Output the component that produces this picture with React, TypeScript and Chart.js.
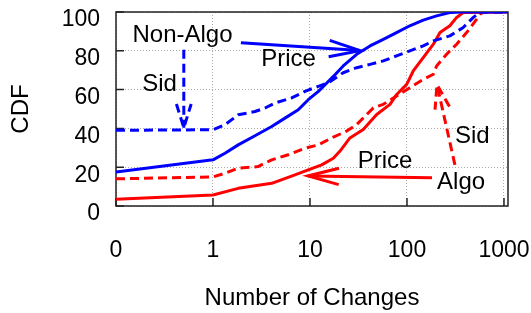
import React, { useEffect, useRef } from "react";
import { Chart, registerables } from "chart.js";

Chart.register(...registerables);

// ---------- data ----------
const xTickValues = [0, 1, 10, 100, 1000];
const xTickLabels = ["0", "1", "10", "100", "1000"];
const yTickValues = [0, 20, 40, 60, 80, 100];
const ZERO_AT = 0.1; // where "0" sits on the log axis
const X_MAX = 1100;

const nonAlgoPriceX = [0, 1, 1.33, 1.82, 2.71, 4.03, 5.52, 7.57, 9.6, 12.2, 14.3, 17.4, 22, 30.3, 41.6, 57, 78, 107, 147, 202, 277, 380, 1100];
const nonAlgoPriceY = [17.5, 23.8, 27.2, 31.5, 36.2, 41, 45.3, 49.6, 54.8, 59.1, 62.5, 66.8, 72.2, 78.2, 82.5, 85.9, 89.4, 92.9, 95.8, 98, 99.7, 100, 100];

const nonAlgoSidX = [0, 1, 1.33, 1.82, 2.71, 3.44, 4.36, 6.47, 8.88, 12.2, 15.4, 22, 30.3, 41.6, 57, 78, 107, 147, 187, 277, 380, 483, 566, 1100];
const nonAlgoSidY = [39, 39.3, 41.9, 47, 48.7, 50.5, 53.1, 55.7, 59.1, 61.7, 63.5, 68.7, 71.3, 73, 74.8, 77.4, 80, 82.5, 85.1, 87.7, 92, 97.2, 100, 100];

const algoPriceX = [0, 1, 1.82, 4.03, 7.0, 9.6, 13.2, 17.4, 20.4, 25.8, 35.4, 48.7, 66.8, 78.3, 99.3, 116, 147, 187, 219, 277, 325, 380, 1100];
const algoPriceY = [3.5, 5.7, 9.1, 11.7, 16, 18.6, 21.2, 24.6, 28.3, 35.1, 39.4, 47.2, 52.4, 57.5, 62.7, 69.6, 76.5, 83.4, 89.4, 92.9, 97.2, 99.7, 100];

const algoSidX = [0, 1, 1.33, 1.82, 2.91, 4.03, 5.97, 8.88, 12.2, 17.4, 23.9, 30.3, 45, 57, 78.3, 107, 147, 187, 202, 256, 325, 412, 523, 566, 620, 1100];
const algoSidY = [14, 15, 16.9, 19.5, 20.3, 23.8, 26.4, 29.8, 31.5, 35.5, 38.6, 42, 50.6, 52.4, 56.7, 61, 65.3, 67.9, 72.2, 78.2, 83.4, 89.4, 96.3, 98.9, 100, 100];

const noteTexts = ["Non-Algo", "Price", "Sid", "Algo", "Price", "Sid"];
const noteX = [0.485, 6.0, 0.281, 361, 59.3, 472];
const noteY = [87.9, 75.5, 62.5, 12.4, 22.9, 35.7];

const arrowColors = ["#0000ff", "#0000ff", "#ff0000", "#ff0000"];
const arrowDashed = [false, true, false, true];
const arrowFromX = [1.94, 0.5, 181, 312];
const arrowFromY = [84.2, 80.6, 14.5, 21.2];
const arrowToX = [32.8, 0.5, 9.52, 204];
const arrowToY = [80.1, 40.3, 15.5, 62.5];

// ---------- helpers ----------
const FAMILY = "'Liberation Sans', Arial, Helvetica, sans-serif";
const BLUE = "#0000ff";
const RED = "#ff0000";
const DASH = [9, 5];

const toPoints = (xs: number[], ys: number[]) =>
  xs.map((x, i) => ({ x: x === 0 ? ZERO_AT : x, y: ys[i] }));

const annotPlugin = {
  id: "gnuplotDecor",
  beforeDatasetsDraw(chart: any) {
    const { ctx, chartArea: a, scales } = chart;
    ctx.save();
    ctx.strokeStyle = "#222";
    ctx.lineWidth = 1.5;
    ctx.setLineDash([]);
    ctx.strokeRect(a.left, a.top, a.right - a.left, a.bottom - a.top);
    ctx.beginPath();
    xTickValues.forEach((v) => {
      const px = scales.x.getPixelForValue(v === 0 ? ZERO_AT : v);
      ctx.moveTo(px, a.bottom);
      ctx.lineTo(px, a.bottom - 8);
    });
    yTickValues.forEach((v) => {
      const py = scales.y.getPixelForValue(v);
      ctx.moveTo(a.left, py);
      ctx.lineTo(a.left + 8, py);
    });
    ctx.stroke();
    ctx.restore();
  },
  afterDatasetsDraw(chart: any) {
    const { ctx, scales } = chart;
    ctx.save();
    // arrows
    arrowColors.forEach((c, i) => {
      const x1 = scales.x.getPixelForValue(arrowFromX[i]);
      const y1 = scales.y.getPixelForValue(arrowFromY[i]);
      const x2 = scales.x.getPixelForValue(arrowToX[i]);
      const y2 = scales.y.getPixelForValue(arrowToY[i]);
      const ang = Math.atan2(y2 - y1, x2 - x1);
      const len = arrowDashed[i] ? 25 : 32;
      const spread = arrowDashed[i] ? 0.3 : 0.26;
      ctx.strokeStyle = c;
      ctx.lineWidth = 3;
      ctx.lineCap = "butt";
      ctx.setLineDash(arrowDashed[i] ? DASH : []);
      ctx.beginPath();
      ctx.moveTo(x1, y1);
      ctx.lineTo(x2, y2);
      ctx.stroke();
      ctx.beginPath();
      ctx.moveTo(x2 - len * Math.cos(ang - spread), y2 - len * Math.sin(ang - spread));
      ctx.lineTo(x2, y2);
      ctx.lineTo(x2 - len * Math.cos(ang + spread), y2 - len * Math.sin(ang + spread));
      ctx.stroke();
    });
    // labels
    ctx.setLineDash([]);
    ctx.fillStyle = "#000";
    ctx.font = `24px ${FAMILY}`;
    ctx.textAlign = "center";
    ctx.textBaseline = "middle";
    noteTexts.forEach((t, i) => {
      ctx.fillText(t, scales.x.getPixelForValue(noteX[i]), scales.y.getPixelForValue(noteY[i]));
    });
    ctx.restore();
  },
};

export default function App() {
  const ref = useRef<HTMLCanvasElement | null>(null);

  useEffect(() => {
    document.body.style.margin = "0";
    if (!ref.current) return;
    const tickFont = { family: FAMILY, size: 23 };
    const chart = new Chart(ref.current, {
      type: "line",
      data: {
        datasets: [
          { label: "Non-Algo Price", data: toPoints(nonAlgoPriceX, nonAlgoPriceY), borderColor: BLUE, borderWidth: 3, pointRadius: 0, fill: false, tension: 0, borderJoinStyle: "round" },
          { label: "Non-Algo Sid", data: toPoints(nonAlgoSidX, nonAlgoSidY), borderColor: BLUE, borderWidth: 3, borderDash: DASH, pointRadius: 0, fill: false, tension: 0, borderJoinStyle: "round" },
          { label: "Algo Price", data: toPoints(algoPriceX, algoPriceY), borderColor: RED, borderWidth: 3, pointRadius: 0, fill: false, tension: 0, borderJoinStyle: "round" },
          { label: "Algo Sid", data: toPoints(algoSidX, algoSidY), borderColor: RED, borderWidth: 3, borderDash: DASH, pointRadius: 0, fill: false, tension: 0, borderJoinStyle: "round" },
        ],
      },
      options: {
        animation: false,
        responsive: false,
        devicePixelRatio: 1,
        layout: { padding: { left: 0, top: 12, right: 23, bottom: 0 } },
        plugins: { legend: { display: false }, tooltip: { enabled: false } },
        scales: {
          x: {
            type: "logarithmic",
            min: ZERO_AT,
            max: X_MAX,
            afterBuildTicks: (s: any) => {
              s.ticks = xTickValues.map((v) => ({ value: v === 0 ? ZERO_AT : v }));
            },
            afterFit: (s: any) => {
              s.height = 107;
              s.paddingLeft = 0;
              s.paddingRight = 0;
            },
            ticks: {
              callback: (_v: any, i: number) => xTickLabels[i],
              font: tickFont,
              color: "#000",
              padding: 31,
              maxRotation: 0,
              autoSkip: false,
            },
            grid: { color: "#aaaaaa", lineWidth: 1, drawTicks: false },
            border: { display: false, dash: [1, 2] },
            title: { display: true, text: "Number of Changes", color: "#000", font: { family: FAMILY, size: 24 }, padding: { top: 0, bottom: 0 } },
          },
          y: {
            type: "linear",
            min: 0,
            max: 100,
            afterBuildTicks: (s: any) => {
              s.ticks = yTickValues.map((v) => ({ value: v }));
            },
            afterFit: (s: any) => {
              s.width = 116;
              s.paddingTop = 0;
              s.paddingBottom = 0;
            },
            ticks: { font: tickFont, color: "#000", padding: 16, labelOffset: 8 },
            grid: { color: "#aaaaaa", lineWidth: 1, drawTicks: false },
            border: { display: false, dash: [1, 2] },
            title: { display: true, text: "CDF", color: "#000", font: { family: FAMILY, size: 24 }, padding: { top: 7, bottom: 0 } },
          },
        },
      },
      plugins: [annotPlugin],
    } as any);
    return () => chart.destroy();
  }, []);

  return (
    <div style={{ width: 531, height: 313 }}>
      <canvas ref={ref} width={531} height={313} style={{ width: 531, height: 313, display: "block" }} />
    </div>
  );
}
